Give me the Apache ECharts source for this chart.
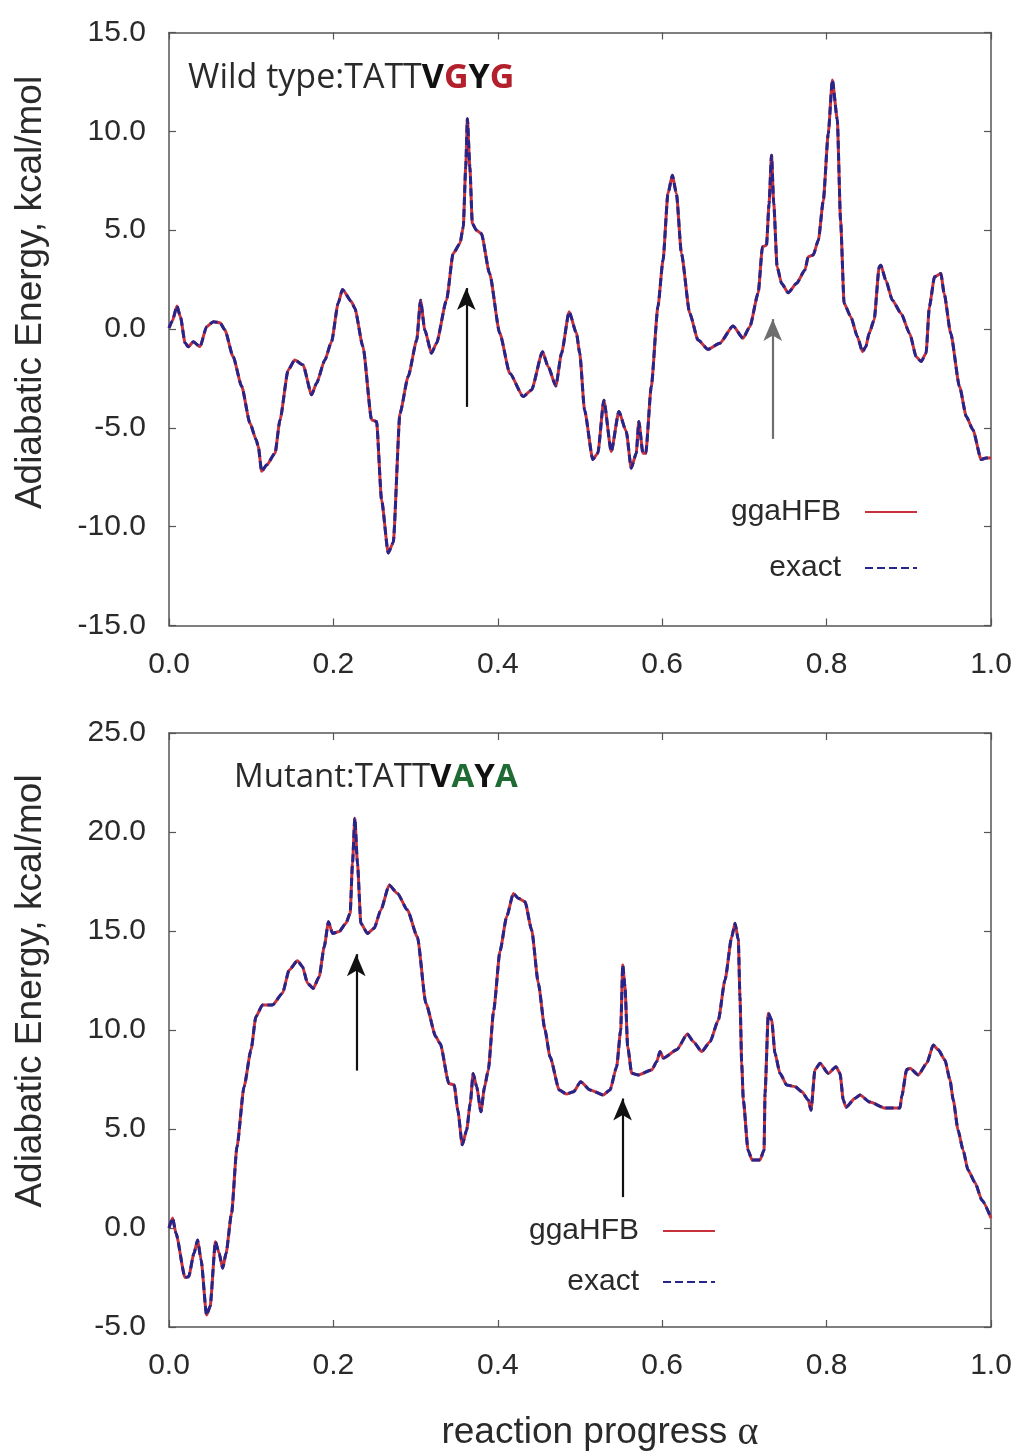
<!DOCTYPE html>
<html>
<head>
<meta charset="utf-8">
<title>Adiabatic energy along the reaction path</title>
<script src="https://cdn.jsdelivr.net/npm/echarts@6/dist/echarts.min.js"></script>
<style>
  html, body { margin: 0; padding: 0; background: #ffffff; }
  #chart { width: 1016px; height: 1454px; }
</style>
</head>
<body>
<div id="chart"></div>
<script>
// Wild type (TATTVGYG): reaction progress and adiabatic energy (kcal/mol)
const wtAlpha = [
  0.000, 0.004, 0.0097, 0.014, 0.0195, 0.0235, 0.0296, 0.0377, 0.0458, 0.054,
  0.062, 0.068, 0.078, 0.0884, 0.0985, 0.106, 0.1086, 0.1127, 0.119, 0.129,
  0.135, 0.145, 0.153, 0.163, 0.1735, 0.1795, 0.1896, 0.1977, 0.2058, 0.211,
  0.222, 0.226, 0.236, 0.2465, 0.2525, 0.2586, 0.2667, 0.2728, 0.281, 0.291,
  0.3014, 0.306, 0.3112, 0.3193, 0.3254, 0.3376, 0.3457, 0.354, 0.358, 0.361,
  0.363, 0.366, 0.369, 0.374, 0.380, 0.390, 0.4024, 0.4146, 0.4308, 0.441,
  0.4544, 0.4612, 0.4706, 0.4775, 0.4868, 0.4957, 0.4997, 0.5055, 0.5156, 0.5217,
  0.529, 0.538, 0.5473, 0.5563, 0.5623, 0.5684, 0.5716, 0.5765, 0.580, 0.5867,
  0.5948, 0.601, 0.607, 0.6124, 0.6173, 0.6234, 0.6335, 0.6436, 0.6558, 0.670,
  0.6862, 0.6984, 0.7066, 0.7167, 0.722, 0.7269, 0.730, 0.733, 0.7357, 0.7398,
  0.7452, 0.7533, 0.7635, 0.7736, 0.7776, 0.7837, 0.790, 0.796, 0.802, 0.807,
  0.813, 0.817, 0.8213, 0.8294, 0.8375, 0.8436, 0.8477, 0.8517, 0.8578, 0.864,
  0.866, 0.872, 0.880, 0.8906, 0.901, 0.909, 0.915, 0.921, 0.925, 0.9313,
  0.939, 0.943, 0.951, 0.9617, 0.970, 0.978, 0.988, 0.9939, 1.000
];
const wtEnergy = [
  0.05, 0.4, 1.16, 0.6, -0.7, -0.9, -0.64, -0.9, 0.12, 0.37,
  0.32, -0.05, -1.4, -2.9, -4.76, -5.6, -5.94, -7.2, -6.87, -6.28,
  -4.6, -2.07, -1.57, -1.82, -3.33, -2.74, -1.57, -0.64, 1.3, 2.0,
  1.38, 1.05, -0.9, -4.6, -4.68, -8.64, -11.33, -10.8, -4.26, -2.4,
  -0.56, 1.46, -0.05, -1.23, -0.72, 1.46, 3.82, 4.33, 5.17, 8.2,
  10.64, 8.2, 5.34, 5.0, 4.83, 2.81, -0.22, -2.24, -3.42, -3.08,
  -1.15, -1.9, -2.88, -1.23, 0.87, -0.22, -1.23, -4.1, -6.6, -6.28,
  -3.6, -6.2, -4.18, -5.19, -7.04, -6.28, -4.68, -6.28, -6.28, -2.91,
  1.13, 3.48, 6.85, 7.78, 6.85, 3.82, 0.79, -0.56, -1.03, -0.72,
  0.15, -0.47, 0.12, 1.8, 4.16, 4.24, 6.35, 8.79, 6.35, 3.15,
  2.31, 1.83, 2.31, 2.98, 3.65, 3.74, 4.5, 6.5, 9.88, 12.6,
  10.6, 5.5, 1.3, 0.62, -0.39, -1.15, -0.9, -0.22, 0.45, 3.15,
  3.23, 2.47, 1.46, 0.79, -0.22, -1.4, -1.65, -1.23, 1.13, 2.64,
  2.81, 1.8, -0.22, -2.91, -4.43, -5.1, -6.6, -6.53, -6.53
];

// Mutant (TATTVAYA): reaction progress and adiabatic energy (kcal/mol)
const mutAlpha = [
  0.000, 0.0044, 0.0085, 0.0195, 0.0239, 0.0304, 0.0348, 0.039, 0.0457, 0.050,
  0.0565, 0.061, 0.0653, 0.0694, 0.0761, 0.0827, 0.0913, 0.0998, 0.1057, 0.1137,
  0.1259, 0.138, 0.1462, 0.1563, 0.1624, 0.1685, 0.1754, 0.1827, 0.1888, 0.194,
  0.1989, 0.207, 0.2152, 0.2204, 0.2232, 0.2261, 0.2293, 0.2334, 0.2414, 0.2496,
  0.2577, 0.2678, 0.2779, 0.290, 0.3022, 0.3125, 0.3246, 0.330, 0.3405, 0.347,
  0.3513, 0.3568, 0.3621, 0.3665, 0.370, 0.3743, 0.3795, 0.3839, 0.3885, 0.395,
  0.4027, 0.4108, 0.4189, 0.425, 0.4331, 0.4412, 0.4493, 0.4574, 0.4635, 0.4748,
  0.4835, 0.4922, 0.5008, 0.5122, 0.5283, 0.5365, 0.5446, 0.5495, 0.552, 0.5547,
  0.558, 0.5629, 0.571, 0.5872, 0.5933, 0.5973, 0.6014, 0.6177, 0.6306, 0.6379,
  0.6481, 0.6582, 0.6683, 0.6764, 0.6846, 0.6886, 0.6926, 0.6946, 0.6967, 0.6987,
  0.7044, 0.7093, 0.719, 0.7239, 0.7251, 0.7291, 0.7332, 0.7372, 0.7433, 0.7515,
  0.7616, 0.7697, 0.7777, 0.781, 0.7859, 0.792, 0.8021, 0.8114, 0.8163, 0.8203,
  0.8236, 0.8346, 0.8406, 0.8528, 0.871, 0.8893, 0.8914, 0.8974, 0.9015, 0.9116,
  0.9218, 0.9298, 0.9359, 0.944, 0.9501, 0.9541, 0.9599, 0.966, 0.972, 0.9805,
  0.989, 1.000
];
const mutEnergy = [
  0.0, 0.5, -0.27, -2.5, -2.46, -1.28, -0.6, -1.6, -4.4, -3.97,
  -0.69, -1.28, -2.03, -1.28, 0.74, 4.1, 7.14, 9.0, 10.67, 11.26,
  11.26, 11.85, 13.03, 13.5, 13.2, 12.36, 12.1, 12.69, 14.2, 15.47,
  14.88, 14.97, 15.39, 15.9, 18.4, 20.7, 18.4, 15.39, 14.88, 15.14,
  16.06, 17.32, 16.9, 16.06, 14.7, 11.35, 9.66, 9.3, 7.3, 7.22,
  5.96, 4.2, 4.95, 6.3, 7.8, 7.14, 5.87, 7.14, 8.0, 11.0,
  14.0, 15.72, 16.9, 16.65, 16.48, 15.05, 12.36, 10.0, 8.65, 6.97,
  6.77, 6.88, 7.39, 6.97, 6.72, 6.97, 8.15, 10.0, 13.28, 12.19,
  9.16, 7.81, 7.73, 7.98, 8.4, 8.91, 8.58, 9.0, 9.8, 9.41,
  8.91, 9.41, 10.5, 12.53, 14.71, 15.39, 14.55, 11.69, 8.32, 6.46,
  3.94, 3.43, 3.43, 3.94, 6.8, 10.84, 10.5, 8.82, 7.81, 7.22,
  7.14, 6.89, 6.46, 5.95, 8.0, 8.32, 7.81, 8.15, 7.81, 6.46,
  6.1, 6.55, 6.72, 6.36, 6.06, 6.06, 6.64, 8.0, 8.07, 7.73,
  8.32, 9.24, 9.0, 8.48, 7.47, 6.46, 4.95, 3.94, 2.93, 2.3,
  1.4, 0.5
];

// Arrows marking the transition points: [alpha, tail energy, head energy]
const wtArrows = [[0.3617, -3.94, 2.07], [0.7345, -5.56, 0.50]];
const mutArrows = [[0.2278, 7.95, 13.83], [0.5518, 1.56, 6.54]];

const seriesNames = ['ggaHFB', 'exact'];
const wtTicks = { min: -15, max: 15, step: 5 };
const mutTicks = { min: -5, max: 25, step: 5 };

const RED = '#c8323c';
const BLUE = '#25258c';
const INK = '#2a2a2a';
const FRAME = '#555555';
const SANS = '"Liberation Sans", Arial, Helvetica, sans-serif';
const TITLE_FONT = '"Open Sans", "Noto Sans", sans-serif';

function pairs(xs, ys) {
  return xs.map((x, i) => [x, ys[i]]);
}

function arrowLines(list, colors) {
  return list.map(([a, from, to], i) => [
    { coord: [a, from], symbol: 'none',
      lineStyle: { color: colors[i], width: 2.2, type: 'solid' },
      itemStyle: { color: '#111111' } },
    { coord: [a, to], symbol: 'arrow' }
  ]);
}

function frameAxisLine() {
  return { show: true, onZero: false, lineStyle: { color: FRAME, width: 1.5 } };
}

function frameTick() {
  return { show: true, inside: true, length: 7, lineStyle: { color: FRAME, width: 1.2 } };
}

function xAxisPair(grid, showName) {
  const bottom = {
    type: 'value', gridIndex: grid, position: 'bottom', min: 0, max: 1, interval: 0.2,
    axisLine: frameAxisLine(),
    axisTick: frameTick(),
    axisLabel: { show: true, margin: 24, fontSize: 30, color: INK, fontFamily: SANS,
      formatter: v => v.toFixed(1) },
    splitLine: { show: false }
  };
  if (showName) {
    Object.assign(bottom, {
      name: '{n|reaction progress }{a|α}',
      nameLocation: 'middle',
      nameGap: 86,
      nameTextStyle: {
        padding: [0, 0, 0, 40],
        rich: {
          n: { fontSize: 37, color: INK, fontFamily: SANS },
          a: { fontSize: 40, color: INK, fontFamily: '"Liberation Serif", "DejaVu Serif", serif' }
        }
      }
    });
  }
  const top = {
    type: 'value', gridIndex: grid, position: 'top', min: 0, max: 1, interval: 0.2,
    axisLine: frameAxisLine(),
    axisTick: frameTick(),
    axisLabel: { show: false },
    splitLine: { show: false }
  };
  return [bottom, top];
}

function yAxisPair(grid, ticks, namePad) {
  const left = {
    type: 'value', gridIndex: grid, position: 'left',
    min: ticks.min, max: ticks.max, interval: ticks.step,
    name: 'Adiabatic Energy, kcal/mol',
    nameLocation: 'middle',
    nameRotate: 90,
    nameGap: 120,
    nameTextStyle: { fontSize: 37, color: INK, fontFamily: SANS, padding: [0, 0, 0, namePad] },
    axisLine: frameAxisLine(),
    axisTick: frameTick(),
    axisLabel: { show: true, margin: 23, fontSize: 30, color: INK, fontFamily: SANS,
      formatter: v => v.toFixed(1) },
    splitLine: { show: false }
  };
  const right = {
    type: 'value', gridIndex: grid, position: 'right',
    min: ticks.min, max: ticks.max, interval: ticks.step,
    axisLine: frameAxisLine(),
    axisTick: frameTick(),
    axisLabel: { show: false },
    splitLine: { show: false }
  };
  return [left, right];
}

function curvePair(xi, yi, data, arrows, arrowColors) {
  return [
    {
      name: seriesNames[0], type: 'line', xAxisIndex: xi, yAxisIndex: yi,
      data: data, symbol: 'none', smooth: 0.2, smoothMonotone: 'x', z: 2,
      lineStyle: { color: RED, width: 3 },
      itemStyle: { color: RED }
    },
    {
      name: seriesNames[1], type: 'line', xAxisIndex: xi, yAxisIndex: yi,
      data: data, symbol: 'none', smooth: 0.2, smoothMonotone: 'x', z: 3,
      lineStyle: { color: BLUE, width: 3, type: [8, 4] },
      itemStyle: { color: BLUE },
      markLine: {
        silent: true,
        animation: false,
        symbolSize: [14, 22],
        label: { show: false },
        emphasis: { disabled: true },
        data: arrowLines(arrows, arrowColors),
        lineStyle: { color: '#111111', width: 2.2, type: 'solid' },
        itemStyle: { color: '#111111' }
      }
    }
  ];
}

const wtData = pairs(wtAlpha, wtEnergy);
const mutData = pairs(mutAlpha, mutEnergy);

const [x0, x1] = xAxisPair(0, false);
const [x2, x3] = xAxisPair(1, true);
const [y0, y1] = yAxisPair(0, wtTicks, 73);
const [y2, y3] = yAxisPair(1, mutTicks, 78);

const legendBase = {
  data: seriesNames,
  orient: 'vertical',
  align: 'right',
  padding: 0,
  itemWidth: 52,
  itemHeight: 14,
  selectedMode: false,
  // line sample only, no point marker
  itemStyle: { color: 'rgba(0,0,0,0)', borderWidth: 0, opacity: 0 },
  textStyle: { fontSize: 30, color: INK, fontFamily: SANS, lineHeight: 30, padding: [0, 19, 0, 0] }
};

const chart = echarts.init(document.getElementById('chart'), null, { renderer: 'canvas' });
chart.setOption({
  animation: false,
  backgroundColor: '#ffffff',
  title: [
    {
      left: 188, top: 57, padding: 0,
      text: '{n|Wild type:TATT}{b|V}{r|G}{b|Y}{r|G}',
      textStyle: {
        fontWeight: 'normal',
        rich: {
          n: { fontSize: 34, color: INK, fontWeight: 'normal', fontFamily: TITLE_FONT, lineHeight: 42 },
          b: { fontSize: 34, color: '#111111', fontWeight: 'bold', fontFamily: TITLE_FONT, lineHeight: 42 },
          r: { fontSize: 34, color: '#b3202c', fontWeight: 'bold', fontFamily: TITLE_FONT, lineHeight: 42 }
        }
      }
    },
    {
      left: 234, top: 757, padding: 0,
      text: '{n|Mutant:TATT}{b|V}{g|A}{b|Y}{g|A}',
      textStyle: {
        fontWeight: 'normal',
        rich: {
          n: { fontSize: 33, color: INK, fontWeight: 'normal', fontFamily: TITLE_FONT, lineHeight: 42 },
          b: { fontSize: 33, color: '#111111', fontWeight: 'bold', fontFamily: TITLE_FONT, lineHeight: 42 },
          g: { fontSize: 33, color: '#1f6b34', fontWeight: 'bold', fontFamily: TITLE_FONT, lineHeight: 42 }
        }
      }
    }
  ],
  legend: [
    Object.assign({}, legendBase, { right: 98, top: 497, itemGap: 26 }),
    Object.assign({}, legendBase, { right: 300, top: 1216, itemGap: 21 })
  ],
  grid: [
    { left: 169, right: 25, top: 32.5, height: 593, containLabel: false },
    { left: 169, right: 25, top: 733, height: 595, containLabel: false }
  ],
  xAxis: [x0, x1, x2, x3],
  yAxis: [y0, y1, y2, y3],
  series: [
    ...curvePair(0, 0, wtData, wtArrows, ['#111111', '#6e6e6e']),
    ...curvePair(2, 2, mutData, mutArrows, ['#111111', '#111111'])
  ]
});
</script>
</body>
</html>
